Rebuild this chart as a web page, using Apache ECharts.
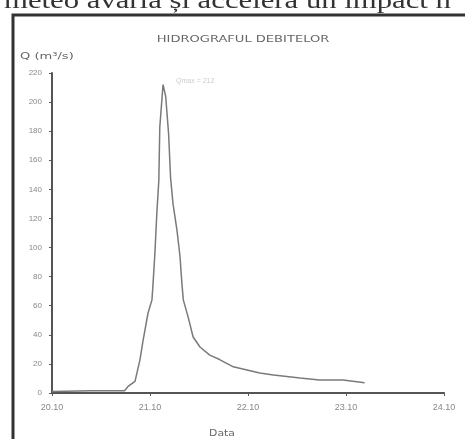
<!DOCTYPE html>
<html>
<head>
<meta charset="utf-8">
<script src="https://cdn.jsdelivr.net/npm/echarts@6/dist/echarts.min.js"></script>
<style>
html,body{margin:0;padding:0;background:#fff;}
#c{width:465px;height:439px;}
</style>
</head>
<body>
<div id="c"></div>
<script>
// x = days since first tick, y = discharge Q (m3/s)
var dayOffsets = [0, 0.4, 0.74, 0.776, 0.847, 0.898, 0.929, 0.98, 1.02, 1.03, 1.05, 1.07, 1.09, 1.10, 1.133,
  1.16, 1.19, 1.21, 1.235, 1.275, 1.306, 1.327, 1.34, 1.39, 1.44, 1.51, 1.61, 1.71, 1.85, 1.99, 2.12, 2.26, 2.53, 2.73, 2.97, 3.19];
var discharge = [1, 1.5, 1.5, 4.5, 8, 23, 36, 55, 64, 74, 96, 124, 146, 183, 212,
  204, 178, 148, 130, 112, 94, 74, 64, 52, 38.5, 31.6, 26, 23, 18, 15.8, 13.7, 12.4, 10.3, 8.9, 8.9, 7];
var xTickLabels = ['20.10', '21.10', '22.10', '23.10', '24.10'];
var yTicks = [0, 20, 40, 60, 80, 100, 120, 140, 160, 180, 200, 220];

var pts = dayOffsets.map(function (d, i) { return [d, discharge[i]]; });
var peakIdx = discharge.indexOf(Math.max.apply(null, discharge));

var chart = echarts.init(document.getElementById('c'));
chart.setOption({
  animation: false,
  backgroundColor: '#fff',
  grid: { left: 52, top: 73, right: 21, bottom: 46 },
  graphic: [
    { type: 'rect', shape: { x: 13, y: 15, width: 470, height: 440 },
      style: { fill: 'none', stroke: '#333', lineWidth: 3 } },
    { type: 'text', x: 4, y: -10, scaleX: 1.28,
      style: { text: 'meteo avariă și accelera un impact n', font: '24px "Liberation Serif"', fill: '#333' } },
    { type: 'text', x: 243, y: 40, scaleX: 1.45,
      style: { text: 'HIDROGRAFUL DEBITELOR', font: '9px "DejaVu Sans"', fill: '#666', align: 'center', verticalAlign: 'middle' } },
    { type: 'text', x: 20, y: 57, scaleX: 1.45,
      style: { text: 'Q (m³/s)', font: '9px "DejaVu Sans"', fill: '#666', verticalAlign: 'middle' } },
    { type: 'text', x: 222, y: 434, scaleX: 1.2,
      style: { text: 'Data', font: '9px "DejaVu Sans"', fill: '#666', align: 'center', verticalAlign: 'middle' } }
  ],
  xAxis: {
    type: 'value', min: 0, max: 4, interval: 1,
    axisLine: { lineStyle: { color: '#555', width: 2 } },
    axisTick: { show: true, length: 3, inside: false, lineStyle: { color: '#555' } },
    splitLine: { show: false },
    axisLabel: { color: '#888', fontSize: 9, margin: 10,
      formatter: function (v) { return xTickLabels[Math.round(v)] || ''; } }
  },
  yAxis: {
    type: 'value', min: yTicks[0], max: yTicks[yTicks.length - 1], interval: 20,
    axisLine: { show: true, lineStyle: { color: '#555', width: 2 } },
    axisTick: { show: true, length: 3, lineStyle: { color: '#555' } },
    splitLine: { show: false },
    axisLabel: { color: '#888', fontSize: 8, margin: 10 }
  },
  series: [{
    type: 'line',
    data: pts,
    symbol: 'none',
    smooth: false,
    lineStyle: { color: '#7a7a7a', width: 1.5 },
    markPoint: {
      symbol: 'rect', symbolSize: 0,
      label: { show: true, color: '#ccc', fontSize: 7, position: 'right', offset: [8, -4],
        formatter: 'Qmax = 212' },
      data: [{ coord: pts[peakIdx] }]
    }
  }]
});
</script>
</body>
</html>
